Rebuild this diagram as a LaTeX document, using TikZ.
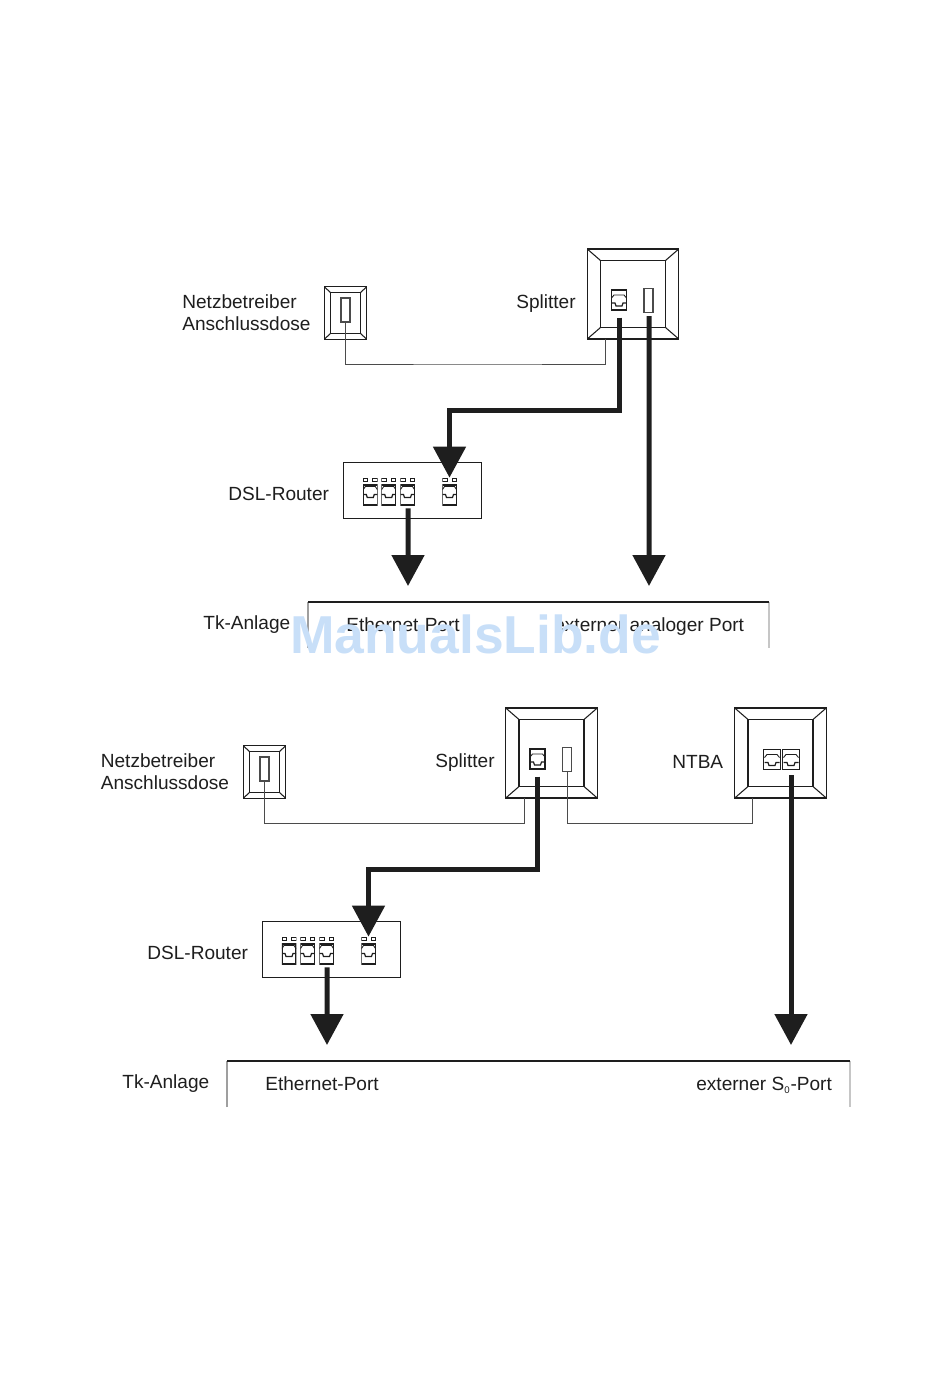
\documentclass[tikz,border=0pt]{standalone}
\usepackage{fontspec}
\setmainfont{Liberation Sans}
\usepackage{xcolor}
\usetikzlibrary{arrows.meta, calc}

\definecolor{ink}{HTML}{1E1E1E}
\definecolor{markblue}{HTML}{C8DFF8}

\newcommand{\platelines}[2]{%
  \begin{scope}[shift={(path picture bounding box.center)}]
    \draw[ink, line width=0.75pt] (-#1,-#2) rectangle (#1,#2);
    \draw[ink, line width=0.6pt] (path picture bounding box.north west) -- (-#1,-#2);
    \draw[ink, line width=0.6pt] (path picture bounding box.north east) -- (#1,-#2);
    \draw[ink, line width=0.6pt] (path picture bounding box.south west) -- (-#1,#2);
    \draw[ink, line width=0.6pt] (path picture bounding box.south east) -- (#1,#2);
  \end{scope}}
\newcommand{\jacklines}[1]{%
  \draw[ink, line width=0.5pt] (-#1,-2) -- (-5,-5) -- (5,-5) -- (#1,-2);
  \draw[ink, line width=0.7pt] (-#1,3) -- (-4,3) -- (-3,6) -- (3,6) -- (4,3) -- (#1,3);}

\begin{document}
\begin{tikzpicture}[
    x=0.02cm, y=-0.02cm,
    lbl/.style={inner sep=0pt, anchor=west, align=left, text=ink,
                font=\fontsize{10.85}{12.5}\selectfont},
    bigplate/.style={draw=ink, line width=0.75pt, inner sep=0pt, minimum width=1.83cm, minimum height=1.8cm,
                     path picture={\platelines{32.5}{33.5}}},
    smallplate/.style={draw=ink, line width=0.75pt, inner sep=0pt, minimum width=0.85cm, minimum height=1.05cm,
                       path picture={\platelines{15}{20.5}}},
    slot/.style={draw=ink!80, line width=0.6pt, fill=white, inner sep=0pt, minimum width=0.18cm, minimum height=0.48cm},
    jack/.style={draw=ink, line width=0.7pt, fill=white, inner sep=0pt, minimum width=0.3cm, minimum height=0.4cm,
                 path picture={
                   \begin{scope}[shift={(path picture bounding box.center)}]
                     \jacklines{7.5}
                   \end{scope}}},
    ntjack/.style={jack, minimum width=0.33cm},
    routerjack/.style={inner sep=0pt, minimum width=0.29cm, minimum height=0.54cm,
                 path picture={
                   \begin{scope}[shift={(path picture bounding box.center)}]
                     \fill[white] (-7,-6.5) rectangle (7,13.5);
                     \draw[ink, line width=0.7pt] (-7,-6.5) rectangle (7,13.5);
                     \begin{scope}[yshift=-0.07cm]
                       \jacklines{7}
                     \end{scope}
                     \draw[ink, line width=0.5pt] (-7,-13) rectangle (-2.5,-10);
                     \draw[ink, line width=0.5pt] (2.5,-13) rectangle (7,-10);
                   \end{scope}}},
    router/.style={draw=ink, line width=0.8pt, inner sep=0pt, minimum width=2.77cm, minimum height=1.11cm},
    wire/.style={draw=ink!80, line width=0.5pt},
    arr/.style={draw=ink, line width=0.1cm, -{Triangle[width=0.64cm, length=0.62cm]}},
    tkline/.style={draw=ink, line width=0.9pt},
    tkleft/.style={draw=gray!75, line width=0.6pt},
    tkright/.style={draw=gray!45, line width=0.6pt},
]
\useasboundingbox (0,0) rectangle (950,1379);

% upper
\node[lbl] (netzA) at (182,312.5) {Netzbetreiber\\Anschlussdose};
\node[smallplate] (doseA) at (345.5,313) {};
\node[slot] (doseslotA) at (345.5,310) {};
\node[lbl] (splitA) at (516,304) {Splitter};
\node[bigplate] (plateA) at (633,294) {};
\node[jack] (spjackA) at (619,300) {};
\node[slot] (spslotA) at (648.5,300.5) {};
\coordinate (wireinA) at (605.5,339);
\draw[wire] (doseslotA.south) |- (480,364) -| (wireinA);

\node[lbl] (dslA) at (228,493.5) {DSL-Router};
\node[router] (routerA) at (412.5,490.5) {};
\foreach \n/\xx in {a/370.3, b/388.7, c/407.5, d/449.5}
  \node[routerjack] (portA\n) at (\xx,491.5) {};

\coordinate (tipethA) at (408,586);
\coordinate (tipextA) at (649,586);
\draw[arr] ($(spjackA.south)+(0,7)$) |- ($(portAd.north)+(0,-67)$) -- (portAd.north);
\draw[arr] ($(spslotA.south)+(0.5,3)$) -- (tipextA);
\draw[arr] ($(portAc.south)+(0.5,3)$) -- (tipethA);

\node[lbl] (tkA) at (203,625) {Tk-Anlage};
\coordinate (tkaA) at (308,648);
\coordinate (tkbA) at (308,602);
\coordinate (tkcA) at (769,602);
\coordinate (tkdA) at (769,648);
\draw[tkleft] (tkaA) -- (tkbA);
\draw[tkright] (tkcA) -- (tkdA);
\draw[tkline] (tkbA) -- (tkcA);
\node[lbl] (ethA) at (346,625) {Ethernet-Port};
\node[lbl] (extA) at (554,627) {externer analoger Port};

% lower
\node[lbl] (netzB) at (100.5,771.5) {Netzbetreiber\\Anschlussdose};
\node[smallplate] (doseB) at (264.5,772) {};
\node[slot] (doseslotB) at (264.5,769) {};
\node[lbl] (splitB) at (435,763) {Splitter};
\node[bigplate] (plateB) at (551.5,753) {};
\node[jack] (spjackB) at (537.5,759) {};
\node[slot] (spslotB) at (567,759.5) {};
\node[lbl] (ntba) at (672,761.5) {NTBA};
\node[bigplate] (plateC) at (780.5,753) {};
\node[ntjack] (ntjackA) at (772,759.5) {};
\node[ntjack] (ntjackB) at (791,759.5) {};
\coordinate (wireinB) at (524,798);
\coordinate (wireinC) at (752,798);
\draw[wire] (doseslotB.south) |- (400,823) -| (wireinB);
\draw[wire] (spslotB.south) |- (660,823) -| (wireinC);

\node[lbl] (dslB) at (147,952.5) {DSL-Router};
\node[router] (routerB) at (331.5,949.5) {};
\foreach \n/\xx in {a/289, b/307.5, c/326.5, d/368.5}
  \node[routerjack] (portB\n) at (\xx,950.5) {};

\coordinate (tipethB) at (327,1045);
\coordinate (tipextB) at (791,1045);
\draw[arr] ($(spjackB.south)+(0,7)$) |- ($(portBd.north)+(0,-67)$) -- (portBd.north);
\draw[arr] ($(ntjackB.south)+(0,5)$) -- (tipextB);
\draw[arr] ($(portBc.south)+(0.5,3)$) -- (tipethB);

\node[lbl] (tkB) at (122,1084) {Tk-Anlage};
\coordinate (tkaB) at (227,1107);
\coordinate (tkbB) at (227,1061);
\coordinate (tkcB) at (850,1061);
\coordinate (tkdB) at (850,1107);
\draw[tkleft] (tkaB) -- (tkbB);
\draw[tkright] (tkcB) -- (tkdB);
\draw[tkline] (tkbB) -- (tkcB);
\node[lbl] (ethB) at (265,1084) {Ethernet-Port};
\node[lbl] (extB) at (696,1085) {externer S\textsubscript{\fontsize{5.5}{6}\selectfont 0}-Port};

% watermark
\node[inner sep=0pt, text=markblue, font=\fontsize{30.4}{36}\selectfont\bfseries] (mark) at (475.5,634) {ManualsLib.de};

\end{tikzpicture}
\end{document}
